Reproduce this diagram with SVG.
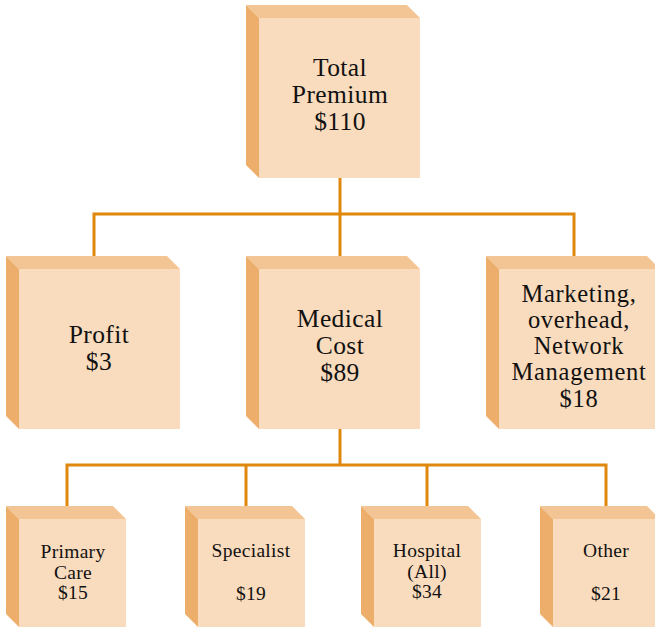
<svg xmlns="http://www.w3.org/2000/svg" width="655" height="627" viewBox="0 0 655 627">
<style>
.front{fill:#F9DBBD}
.top{fill:#F3C594}
.side{fill:#EDAE6B}
.conn{fill:none;stroke:#E0870E;stroke-width:3}
.big{font-family:"Liberation Serif","Times New Roman",serif;font-size:25.5px;letter-spacing:0.4px;fill:#111;text-anchor:middle}
.mid{font-family:"Liberation Serif","Times New Roman",serif;font-size:24.5px;letter-spacing:0.7px;fill:#111;text-anchor:middle}
.small{font-family:"Liberation Serif","Times New Roman",serif;font-size:19.5px;letter-spacing:0.3px;fill:#111;text-anchor:middle}
</style>
<rect width="655" height="627" fill="#fff"/>
<g id="connectors">
<path class="conn" d="M340 178V214M94 262V214H574V262M340 214V262"/>
<path class="conn" d="M340 429V465M67 513V465H606V513M246 465V513M427 465V513"/>
</g>
<g id="total">
<polygon class="top" points="246,5 407,5 420,18 259,18"/>
<polygon class="side" points="246,5 259,18 259,178 246,165"/>
<rect class="front" x="259" y="18" width="161" height="160"/>
<text class="big" x="340" y="76">Total</text>
<text class="big" x="340" y="103">Premium</text>
<text class="big" x="340" y="130">$110</text>
</g>
<g id="profit">
<polygon class="top" points="6,256 167,256 180,269 19,269"/>
<polygon class="side" points="6,256 19,269 19,429 6,416"/>
<rect class="front" x="19" y="269" width="161" height="160"/>
<text class="big" x="99" y="343">Profit</text>
<text class="big" x="99" y="370">$3</text>
</g>
<g id="medical">
<polygon class="top" points="246,256 407,256 420,269 259,269"/>
<polygon class="side" points="246,256 259,269 259,429 246,416"/>
<rect class="front" x="259" y="269" width="161" height="160"/>
<text class="big" x="340" y="327">Medical</text>
<text class="big" x="340" y="354">Cost</text>
<text class="big" x="340" y="381">$89</text>
</g>
<g id="marketing">
<polygon class="top" points="486,256 647,256 660,269 499,269"/>
<polygon class="side" points="486,256 499,269 499,429 486,416"/>
<rect class="front" x="499" y="269" width="161" height="160"/>
<text class="mid" x="579" y="302">Marketing,</text>
<text class="mid" x="579" y="328">overhead,</text>
<text class="mid" x="579" y="354">Network</text>
<text class="mid" x="579" y="380">Management</text>
<text class="mid" x="579" y="407">$18</text>
</g>
<g id="primary">
<polygon class="top" points="6,506 113,506 126,519 19,519"/>
<polygon class="side" points="6,506 19,519 19,627 6,614"/>
<rect class="front" x="19" y="519" width="107" height="108"/>
<text class="small" x="73" y="558">Primary</text>
<text class="small" x="73" y="579">Care</text>
<text class="small" x="73" y="599">$15</text>
</g>
<g id="specialist">
<polygon class="top" points="185,506 292,506 305,519 198,519"/>
<polygon class="side" points="185,506 198,519 198,627 185,614"/>
<rect class="front" x="198" y="519" width="107" height="108"/>
<text class="small" x="251" y="557">Specialist</text>
<text class="small" x="251" y="600">$19</text>
</g>
<g id="hospital">
<polygon class="top" points="361,506 468,506 481,519 374,519"/>
<polygon class="side" points="361,506 374,519 374,627 361,614"/>
<rect class="front" x="374" y="519" width="107" height="108"/>
<text class="small" x="427" y="557">Hospital</text>
<text class="small" x="427" y="578">(All)</text>
<text class="small" x="427" y="598">$34</text>
</g>
<g id="other">
<polygon class="top" points="540,506 647,506 660,519 553,519"/>
<polygon class="side" points="540,506 553,519 553,627 540,614"/>
<rect class="front" x="553" y="519" width="107" height="108"/>
<text class="small" x="606" y="557">Other</text>
<text class="small" x="606" y="600">$21</text>
</g>
</svg>
